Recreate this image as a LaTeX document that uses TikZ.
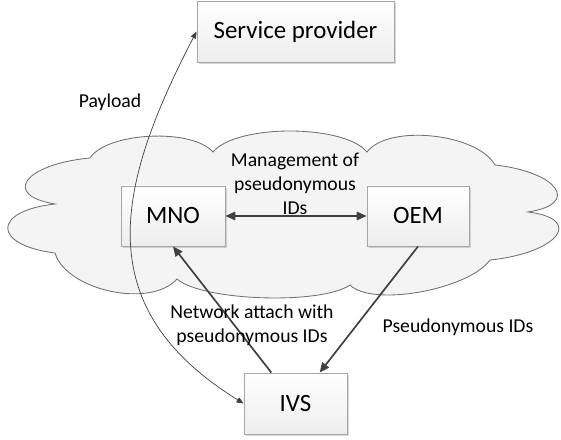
\documentclass[tikz,border=0pt]{standalone}
\usepackage{fontspec}
\setmainfont{Carlito}
\usetikzlibrary{arrows.meta,shadows}

\definecolor{boxline}{HTML}{A6A6A6}
\definecolor{cloudline}{HTML}{6F6F6F}
\definecolor{cloudfill}{HTML}{F4F4F4}
\definecolor{arrowgray}{HTML}{404040}

\tikzset{
  entity/.style={draw=boxline, line width=0.6pt, top color=white, bottom color=gray!14,
    drop shadow={shadow xshift=0.05cm, shadow yshift=-0.05cm, opacity=0.3},
    inner sep=0pt, font=\fontsize{17.7}{20}\selectfont},
  flow/.style={draw=arrowgray, line width=1.2pt, -{Triangle[length=7pt,width=6pt]}},
  payloadflow/.style={draw=arrowgray, line width=0.5pt,
    {Triangle[length=5pt,width=4pt]}-{Triangle[length=5pt,width=4pt]}},
  note/.style={align=center, inner sep=0pt, font=\fontsize{14}{17}\selectfont}
}

\begin{document}
\begin{tikzpicture}[x=0.025cm, y=-0.025cm]
  \useasboundingbox (0,0) rectangle (561,440);

  % operator cloud
  \draw[cloudline, fill=cloudfill, line width=0.6pt]
    (90,158) .. controls (107,132) and (192,128) .. (213,152)
    .. controls (236,124) and (344,124) .. (367,152)
    .. controls (388,124) and (477,133) .. (495,165)
    .. controls (558,172) and (581,204) .. (528,212)
    .. controls (585,219) and (558,253) .. (490,260)
    .. controls (468,290) and (372,307) .. (350,285)
    .. controls (321,305) and (202,301) .. (177,279)
    .. controls (150,309) and (66,290) .. (55,253)
    .. controls (-8,245) and (-8,211) .. (55,204)
    .. controls (1,195) and (25,164) .. (90,158) -- cycle;

  \node[entity, minimum width=4.925cm, minimum height=1.525cm] (sp) at (295.5,31.5) {Service provider};
  \node[entity, minimum width=2.6cm, minimum height=1.5cm] (mno) at (173,216) {MNO};
  \node[entity, minimum width=2.55cm, minimum height=1.5cm] (oem) at (418,216) {OEM};
  \node[entity, minimum width=2.575cm, minimum height=1.525cm] (ivs) at (295.5,403.5) {IVS};

  \draw[flow, {Triangle[length=7pt,width=6pt]}-{Triangle[length=7pt,width=6pt]}] (mno.east) -- (oem.west);
  \draw[flow] (ivs.128) -- (mno.south);
  \draw[flow] (oem.south) -- (ivs.52);
  \draw[payloadflow] (ivs.west) .. controls (91,309) and (113,192) .. (sp.west);

  \node[note] (mgmt) at (295,184) {Management of\\pseudonymous\\IDs};
  \node[note] (payload) at (110,102) {Payload};
  \node[note] (attach) at (252,325) {Network attach with\\pseudonymous IDs};
  \node[note] (pids) at (458,327) {Pseudonymous IDs};
\end{tikzpicture}
\end{document}
